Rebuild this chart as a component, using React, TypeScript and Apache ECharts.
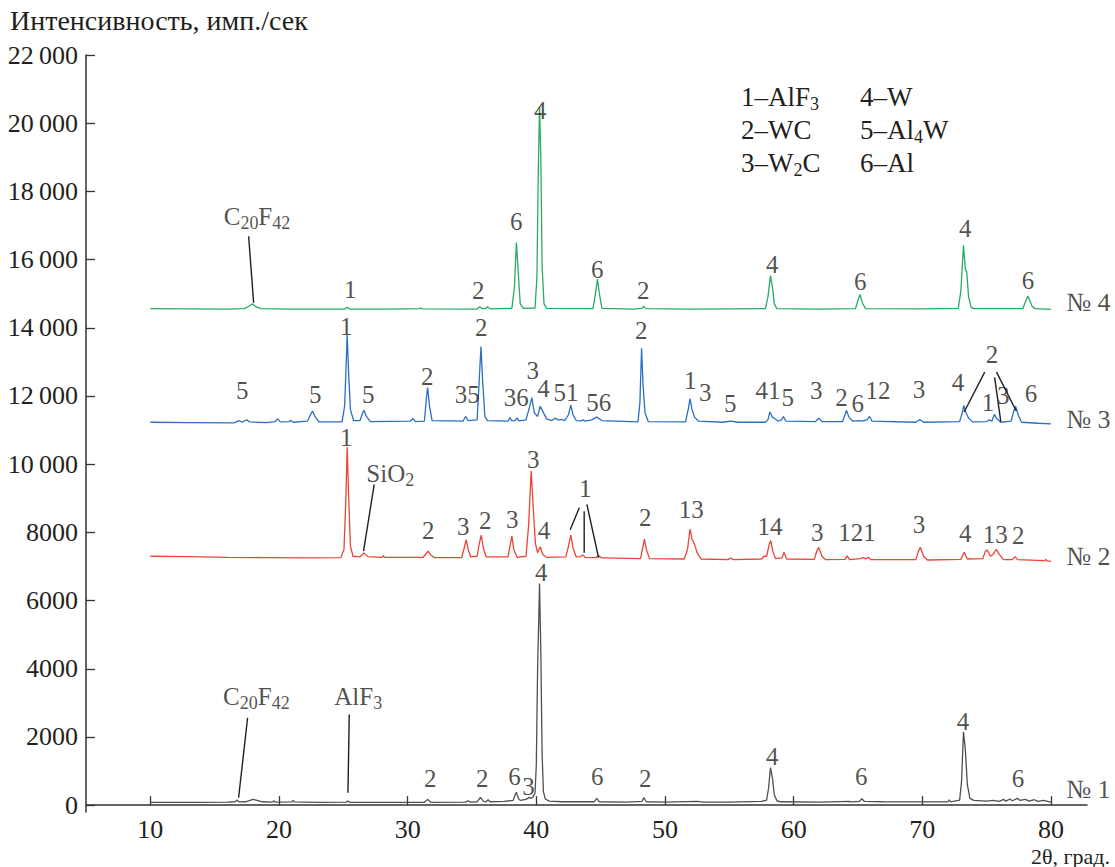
import React, { useEffect, useRef } from 'react';
import * as echarts from 'echarts';

const FONT = "'Liberation Serif', 'DejaVu Serif', serif";
const INK = '#231f20';

const xTicks = [10, 20, 30, 40, 50, 60, 70, 80];
const yTicks = [0, 2000, 4000, 6000, 8000, 10000, 12000, 14000, 16000, 18000, 20000, 22000];

const yAxisTitle = 'Интенсивность, имп./сек';
const xAxisTitle = '2θ, град.';

// Pattern № 1 (black)
const pattern1: [number, number][] = [
  [10, 80], [12, 85], [14, 80], [16, 90], [16.6, 100], [16.75, 150], [16.9, 95], [17.4, 100], [17.8, 150], [18.0, 170],
  [18.3, 140], [18.7, 100], [19.5, 90], [19.6, 130], [19.7, 90], [21, 95], [21.1, 140], [21.2, 95], [23, 80], [25.2, 90],
  [25.35, 120], [25.5, 85], [28, 80], [31.3, 85], [31.55, 170], [31.8, 85], [34.5, 90], [34.7, 130], [34.9, 90], [35.4, 100],
  [35.65, 230], [35.9, 110], [36.1, 100], [36.25, 160], [36.4, 100], [37.5, 110], [38.2, 140], [38.35, 300], [38.45, 380],
  [38.6, 200], [38.75, 140], [39.2, 170], [39.45, 230], [39.6, 200], [39.75, 250], [39.9, 350], [40.0, 1200], [40.1, 4000],
  [40.25, 6500], [40.35, 4500], [40.45, 1500], [40.55, 400], [40.7, 180], [41, 120], [42, 100], [44.5, 100], [44.7, 200],
  [44.9, 100], [47, 90], [48.2, 110], [48.35, 220], [48.55, 100], [50, 90], [52.5, 110], [53, 90], [55, 90], [57.5, 110],
  [57.9, 150], [58.05, 500], [58.2, 1100], [58.35, 800], [58.5, 300], [58.7, 130], [59, 100], [62, 90], [64.3, 110],
  [64.5, 95], [65.1, 110], [65.3, 190], [65.5, 110], [67, 100], [70, 95], [72, 100], [72.1, 160], [72.2, 100], [72.9, 150],
  [73.05, 700], [73.2, 2150], [73.35, 1600], [73.5, 600], [73.7, 200], [74, 140], [75, 120], [75.5, 140], [76, 110],
  [76.3, 170], [76.5, 120], [76.8, 180], [77, 130], [77.4, 200], [77.6, 140], [78, 170], [78.3, 120], [78.7, 160],
  [79, 110], [79.4, 140], [80, 90],
];

// Pattern № 2 (red)
const pattern2: [number, number][] = [
  [10, 7300], [13, 7290], [16, 7270], [19, 7260], [22, 7250], [24.8, 7260], [25.05, 7500], [25.2, 9000], [25.3, 10500],
  [25.42, 9000], [25.55, 7600], [25.75, 7300], [26.3, 7280], [26.6, 7400], [26.9, 7290], [28.0, 7270], [28.1, 7320],
  [28.2, 7270], [31.2, 7270], [31.45, 7380], [31.6, 7450], [31.8, 7330], [32.1, 7260], [34.2, 7260], [34.4, 7550],
  [34.55, 7790], [34.7, 7500], [34.9, 7280], [35.4, 7300], [35.58, 7700], [35.72, 7920], [35.88, 7550], [36.1, 7280],
  [37.8, 7280], [37.95, 7600], [38.1, 7890], [38.25, 7500], [38.5, 7270], [39.2, 7300], [39.4, 8200], [39.6, 9800],
  [39.75, 8800], [39.92, 7700], [40.1, 7400], [40.3, 7580], [40.5, 7350], [40.8, 7270], [42.3, 7280], [42.5, 7600],
  [42.68, 7920], [42.85, 7550], [43.1, 7280], [43.45, 7290], [43.6, 7340], [43.8, 7270], [44.6, 7260], [44.85, 7310],
  [45.1, 7250], [48.1, 7230], [48.3, 7600], [48.4, 7800], [48.55, 7500], [48.8, 7230], [51.5, 7220], [51.75, 7500],
  [51.95, 8100], [52.1, 7800], [52.3, 7650], [52.5, 7400], [52.8, 7220], [54.9, 7200], [55.1, 7250], [55.3, 7200],
  [57.5, 7220], [57.7, 7300], [57.9, 7300], [58.1, 7650], [58.22, 7760], [58.4, 7420], [58.6, 7230], [59.1, 7250],
  [59.25, 7420], [59.45, 7220], [61.6, 7210], [61.8, 7450], [61.95, 7560], [62.2, 7300], [62.5, 7200], [64.0, 7210],
  [64.15, 7310], [64.35, 7200], [65.2, 7230], [65.4, 7260], [65.6, 7220], [65.8, 7270], [66, 7200], [69.5, 7200],
  [69.7, 7450], [69.85, 7560], [70.1, 7300], [70.4, 7190], [73.0, 7210], [73.25, 7420], [73.5, 7220], [74.7, 7230],
  [74.9, 7450], [75.05, 7480], [75.3, 7300], [75.5, 7350], [75.75, 7500], [76.0, 7350], [76.3, 7200], [77.0, 7200],
  [77.2, 7290], [77.4, 7200], [79.5, 7170], [79.6, 7210], [79.7, 7160], [80, 7160],
];

// Pattern № 3 (blue)
const pattern3: [number, number][] = [
  [10, 11230], [13, 11220], [16.5, 11210], [16.9, 11280], [17.1, 11230], [17.5, 11300], [17.7, 11240], [19.0, 11220],
  [19.7, 11250], [19.9, 11330], [20.1, 11240], [20.8, 11250], [20.9, 11290], [21.1, 11230], [22.2, 11260], [22.45, 11450],
  [22.6, 11560], [22.8, 11400], [23.1, 11240], [24.9, 11240], [25.1, 11700], [25.2, 12700], [25.3, 13800], [25.42, 12600],
  [25.55, 11600], [25.8, 11280], [26.3, 11280], [26.5, 11500], [26.6, 11580], [26.8, 11400], [27.1, 11250], [30.2, 11260],
  [30.4, 11340], [30.6, 11250], [31.3, 11260], [31.45, 11900], [31.55, 12250], [31.7, 11700], [31.9, 11280], [34.3, 11260],
  [34.5, 11400], [34.7, 11280], [35.4, 11300], [35.58, 12600], [35.7, 13450], [35.82, 12500], [36.0, 11400], [36.2, 11280],
  [37.8, 11260], [37.95, 11370], [38.1, 11270], [38.35, 11280], [38.5, 11360], [38.65, 11270], [39.2, 11300],
  [39.45, 11650], [39.65, 11950], [39.85, 11500], [40.1, 11400], [40.3, 11700], [40.5, 11550], [40.8, 11330],
  [41.2, 11280], [41.45, 11350], [41.7, 11300], [42.0, 11310], [42.2, 11280], [42.5, 11450], [42.68, 11730],
  [42.85, 11450], [43.1, 11280], [43.5, 11270], [43.65, 11300], [43.8, 11260], [44.3, 11300], [44.7, 11380],
  [45.1, 11280], [47.9, 11240], [48.05, 11800], [48.18, 13400], [48.3, 12300], [48.45, 11500], [48.7, 11250],
  [51.6, 11240], [51.8, 11600], [51.95, 11920], [52.1, 11600], [52.3, 11380], [52.6, 11260], [54.5, 11230],
  [55.1, 11260], [55.7, 11230], [57.8, 11230], [58.0, 11300], [58.15, 11530], [58.35, 11380], [58.6, 11320],
  [58.8, 11260], [59.05, 11300], [59.2, 11400], [59.4, 11260], [61.7, 11250], [61.95, 11350], [62.2, 11250],
  [63.8, 11250], [64.0, 11450], [64.1, 11580], [64.3, 11380], [64.6, 11260], [65.1, 11280], [65.3, 11260],
  [65.7, 11300], [65.9, 11400], [66.1, 11260], [69.5, 11230], [69.8, 11310], [70.1, 11230], [72.9, 11250],
  [73.1, 11500], [73.22, 11720], [73.4, 11500], [73.6, 11350], [73.9, 11240], [75.0, 11250], [75.2, 11300],
  [75.4, 11260], [75.6, 11460], [75.8, 11330], [76.1, 11230], [76.9, 11260], [77.1, 11550], [77.25, 11700],
  [77.45, 11450], [77.7, 11230], [79, 11200], [80, 11180],
];

// Pattern № 4 (green)
const pattern4: [number, number][] = [
  [10, 14560], [13, 14555], [16, 14550], [17.3, 14560], [17.7, 14640], [17.95, 14700], [18.2, 14620], [18.6, 14560],
  [21, 14550], [25.1, 14550], [25.3, 14600], [25.5, 14550], [28, 14545], [30, 14555], [30.9, 14560], [31.0, 14590],
  [31.1, 14555], [35.4, 14550], [35.6, 14620], [35.8, 14560], [36.05, 14560], [36.2, 14620], [36.4, 14555],
  [38.1, 14570], [38.3, 15200], [38.45, 16500], [38.6, 15600], [38.75, 14700], [39.0, 14570], [39.9, 14580],
  [40.05, 15500], [40.15, 18500], [40.25, 20500], [40.35, 19000], [40.45, 15800], [40.6, 14700], [40.8, 14570],
  [44.4, 14560], [44.6, 15000], [44.75, 15430], [44.9, 15000], [45.1, 14570], [47.5, 14550], [48.2, 14570],
  [48.35, 14630], [48.5, 14560], [52, 14550], [55, 14555], [57.8, 14560], [58.0, 14900], [58.2, 15530], [58.35, 15200],
  [58.5, 14700], [58.7, 14560], [62, 14550], [64.8, 14560], [65.0, 14800], [65.15, 14980], [65.35, 14720],
  [65.6, 14560], [70, 14555], [72.8, 14570], [73.0, 15100], [73.2, 16420], [73.35, 15700], [73.45, 15650],
  [73.6, 14900], [73.8, 14600], [74, 14560], [77.8, 14560], [78.0, 14750], [78.2, 14930], [78.35, 14800],
  [78.55, 14620], [78.8, 14560], [80, 14540],
];

// Peak annotations [2θ, intensity, text]
const labels1: [number, number, string][] = [
  [18.24, 3190, 'C{s|20}F{s|42}'], [26.16, 3190, 'AlF{s|3}'], [31.76, 780, '2'], [35.8, 780, '2'], [38.3, 840, '6'],
  [39.4, 560, '3'], [40.38, 6820, '4'], [44.73, 840, '6'], [48.46, 780, '2'], [58.33, 1420, '4'], [65.25, 840, '6'],
  [73.17, 2450, '4'], [77.44, 780, '6'],
];
const labels2: [number, number, string][] = [
  [25.23, 10780, '1'], [28.65, 9725, 'SiO{s|2}'], [31.6, 8050, '2'], [34.32, 8170, '3'], [36.03, 8340, '2'],
  [38.13, 8370, '3'], [39.76, 10140, '3'], [40.6, 8050, '4'], [43.8, 9290, '1'], [48.46, 8430, '2'], [52.04, 8670, '13'],
  [58.17, 8170, '14'], [61.83, 7990, '3'], [64.93, 7990, '121'], [69.75, 8230, '3'], [73.33, 7960, '4'],
  [75.66, 7930, '13'], [77.45, 7900, '2'],
];
const labels3: [number, number, string][] = [
  [17.15, 12160, '5'], [22.82, 12040, '5'], [25.23, 14040, '1'], [26.94, 12040, '5'], [31.52, 12570, '2'],
  [34.63, 12040, '35'], [35.72, 14010, '2'], [38.44, 11950, '36'], [39.72, 12760, '3'], [40.55, 12230, '4'],
  [42.3, 12100, '51'], [44.85, 11810, '56'], [48.15, 13920, '2'], [51.96, 12450, '1'], [53.12, 12100, '3'],
  [55.07, 11780, '5'], [58.0, 12160, '41'], [59.55, 11950, '5'], [61.75, 12160, '3'], [63.72, 11950, '2'],
  [64.98, 11780, '6'], [66.55, 12160, '12'], [69.75, 12190, '3'], [72.78, 12400, '4'], [75.42, 13220, '2'],
  [75.11, 11810, '1'], [76.3, 12010, '3'], [78.45, 12070, '6'],
];
const labels4: [number, number, string][] = [
  [18.29, 17270, 'C{s|20}F{s|42}'], [25.54, 15120, '1'], [35.49, 15090, '2'], [38.44, 17110, '6'], [40.3, 20370, '4'],
  [44.73, 15710, '6'], [48.31, 15090, '2'], [58.33, 15850, '4'], [65.17, 15360, '6'], [73.33, 16920, '4'],
  [78.22, 15390, '6'],
];
const seriesNames: [number, number, string][] = [
  [82.9, 14740, '№ 4'], [82.9, 11310, '№ 3'], [82.9, 7290, '№ 2'], [82.9, 455, '№ 1'],
];

// Leader lines from labels to peaks
const leaders: [number, number][][] = [
  [[17.64, 16686], [18.03, 14733]],
  [[17.56, 2563], [16.86, 217]],
  [[25.46, 2660], [25.36, 364]],
  [[27.4, 9405], [26.57, 7450]],
  [[43.34, 8720], [42.63, 8080]],
  [[43.72, 8620], [43.72, 7400]],
  [[43.93, 8820], [44.84, 7255]],
  [[74.85, 12700], [73.25, 11530]],
  [[75.62, 12545], [76.1, 11250]],
  [[75.77, 12700], [77.3, 11560]],
];

// Legend of phases
const phaseLegend: string[][] = [
  ['1–AlF{s|3}', '4–W'],
  ['2–WC', '5–Al{s|4}W'],
  ['3–W{s|2}C', '6–Al'],
];

const COLORS = { p1: '#505050', p2: '#ec4437', p3: '#2a70c2', p4: '#27ab67' };

const rich = {
  s: { fontSize: 18, fontFamily: FONT, color: INK, verticalAlign: 'bottom', lineHeight: 12 },
};

function fmtY(v: number): string {
  if (v >= 10000) {
    const th = Math.floor(v / 1000);
    const rest = String(v % 1000).padStart(3, '0');
    return th + '\u2009' + rest;
  }
  return String(v);
}

function labelSeries(data: [number, number, string][], size = 25) {
  return {
    type: 'scatter',
    data: data.map((d) => [d[0], d[1], d[2]]),
    symbolSize: 1,
    itemStyle: { color: 'rgba(0,0,0,0)' },
    silent: true,
    clip: false,
    z: 5,
    label: {
      show: true,
      position: 'inside',
      formatter: (p: any) => p.data[2],
      color: INK,
      fontFamily: FONT,
      fontSize: size,
      lineHeight: 31,
      rich,
    },
  };
}

function lineSeries(data: [number, number][], color: string) {
  return {
    type: 'line',
    data,
    showSymbol: false,
    symbol: 'none',
    silent: true,
    lineStyle: { color, width: 1.3 },
    z: 3,
  };
}

export default function App() {
  const ref = useRef<HTMLDivElement>(null);
  useEffect(() => {
    if (!ref.current) return;
    const chart = echarts.init(ref.current, undefined, { renderer: 'svg' });
    const legendGraphics: any[] = [];
    phaseLegend.forEach((row, i) => {
      row.forEach((txt, j) => {
        legendGraphics.push({
          type: 'text',
          left: j === 0 ? 741 : 860,
          top: 80 + i * 33,
          style: {
            text: txt,
            fontFamily: FONT,
            fontSize: 27,
            lineHeight: 33,
            fill: INK,
            rich,
          },
        });
      });
    });
    chart.setOption({
      animation: false,
      backgroundColor: '#ffffff',
      textStyle: { fontFamily: FONT },
      grid: { left: 86, right: 28, top: 55, bottom: 55, containLabel: false },
      xAxis: {
        type: 'value',
        min: 5,
        max: 82.8,
        axisLine: { show: true, lineStyle: { color: '#333', width: 1.5 } },
        axisTick: { show: true, inside: true, length: 9, customValues: xTicks, lineStyle: { color: '#333', width: 1.3 } },
        axisLabel: {
          customValues: xTicks,
          color: INK,
          fontFamily: FONT,
          fontSize: 26,
          margin: 4,
        },
        splitLine: { show: false },
      },
      yAxis: {
        type: 'value',
        min: -200,
        max: 22000,
        axisLine: { show: true, lineStyle: { color: '#333', width: 1.5 } },
        axisTick: { show: true, inside: true, length: 9, customValues: yTicks, lineStyle: { color: '#333', width: 1.3 } },
        axisLabel: {
          customValues: yTicks,
          formatter: (v: number) => fmtY(v),
          color: INK,
          fontFamily: FONT,
          fontSize: 26,
          margin: 8,
        },
        splitLine: { show: false },
      },
      graphic: [
        {
          type: 'text',
          left: 10,
          top: 6,
          style: { text: yAxisTitle, fontFamily: FONT, fontSize: 28, fill: INK },
        },
        {
          type: 'text',
          right: 5,
          top: 845,
          style: { text: xAxisTitle, fontFamily: FONT, fontSize: 22, fill: INK },
        },
        ...legendGraphics,
      ],
      series: [
        lineSeries(pattern1, COLORS.p1),
        lineSeries(pattern2, COLORS.p2),
        lineSeries(pattern3, COLORS.p3),
        lineSeries(pattern4, COLORS.p4),
        ...leaders.map((l) => ({
          type: 'line',
          data: l,
          showSymbol: false,
          symbol: 'none',
          silent: true,
          lineStyle: { color: INK, width: 1.4 },
          z: 4,
        })),
        labelSeries(labels1),
        labelSeries(labels2),
        labelSeries(labels3),
        labelSeries(labels4),
        labelSeries(seriesNames, 26),
      ],
    });
    return () => chart.dispose();
  }, []);
  return (
    <div
      ref={ref}
      style={{ position: 'fixed', left: 0, top: 0, width: 1115, height: 867, background: '#fff' }}
    />
  );
}
